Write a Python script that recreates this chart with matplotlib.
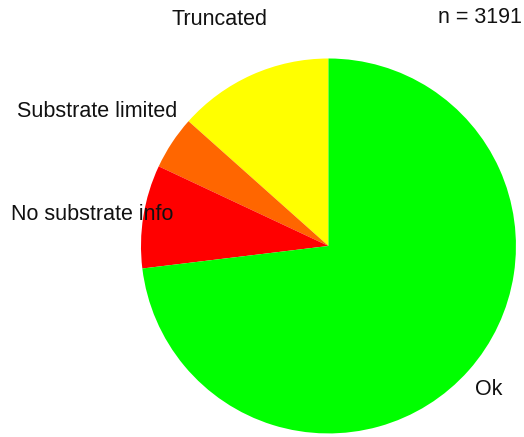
import numpy as np
import matplotlib.pyplot as plt

plt.rcParams['font.family'] = ['Liberation Sans', 'DejaVu Sans']

# counts per category, drawn counter-clockwise from 12 o'clock
labels = ["Truncated", "Substrate limited", "No substrate info", "Ok"]
counts = [428, 147, 284, 2332]
colors = ["#ffff00", "#ff6600", "#ff0000", "#00ff00"]

# label placement: distance (in radii) and angle nudge from wedge middle
label_dist = [1.314, 1.412, 1.266, 1.165]
label_shift = [2.0, 4.25, 2.9, -1.45]

fig = plt.figure(figsize=(5.24, 4.37), dpi=100)
ax = fig.add_axes([0, 0, 1, 1])
wedges, _ = ax.pie(counts, colors=colors, startangle=90, counterclock=True,
                   radius=1, center=(0, 0), frame=True,
                   wedgeprops=dict(linewidth=0))

for w, lab, d, s in zip(wedges, labels, label_dist, label_shift):
    mid = np.deg2rad((w.theta1 + w.theta2) / 2 + s)
    ax.text(d * np.cos(mid), d * np.sin(mid), lab, ha='center', va='baseline',
            fontsize=15.5, color='#111111')

fig.text(480 / 524, 1 - 23 / 437, "n = %d" % sum(counts), ha='center',
         va='baseline', fontsize=15.5, color='#111111')

ax.set_xlim(-1.752, 1.043)
ax.set_ylim(-1.019, 1.312)
ax.set_aspect('auto')
ax.axis('off')

fig.savefig("out.png", dpi=100)
